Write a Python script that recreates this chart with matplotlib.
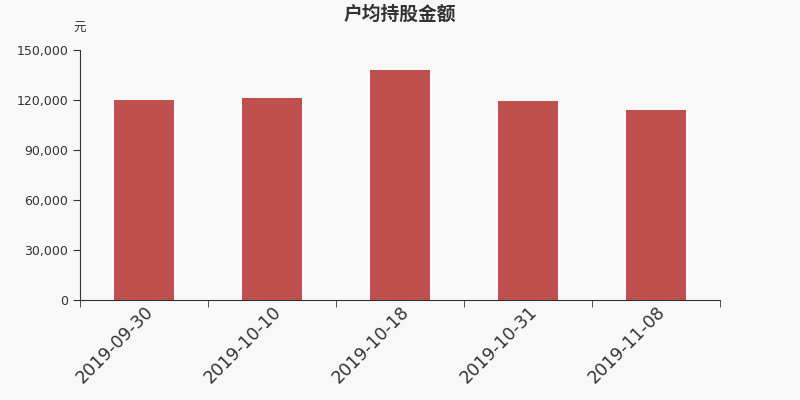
import numpy as np
import matplotlib.pyplot as plt

plt.rcParams['font.family'] = ['Noto Sans CJK SC', 'DejaVu Sans']

dates = ['2019-09-30', '2019-10-10', '2019-10-18', '2019-10-31', '2019-11-08']
values = [119800, 121200, 137800, 119400, 113800]
yticks = [0, 30000, 60000, 90000, 120000, 150000]

bg = '#f8f8f8'
fig = plt.figure(figsize=(8, 4), dpi=100, facecolor=bg)
ax = fig.add_axes([0.1, 0.25, 0.8, 0.625], facecolor=bg)

x = np.arange(len(dates))
ax.bar(x, values, width=0.47, color='#c0504d', zorder=2)

ax.set_xlim(-0.5, len(dates) - 0.5)
ax.set_ylim(0, 150000)
ax.set_yticks(yticks)
ax.set_yticklabels(['{:,}'.format(v) for v in yticks], family='DejaVu Sans')

ax.set_xticks(x)
ax.set_xticklabels(dates, rotation=45, ha='right', rotation_mode='anchor',
                   fontsize=12.5, family='DejaVu Sans')
ax.set_xticks(np.arange(len(dates) + 1) - 0.5, minor=True)
ax.tick_params(axis='x', which='major', length=0, pad=2, colors='#333333')
ax.tick_params(axis='x', which='minor', length=5, color='#333333')
ax.tick_params(axis='y', length=5, labelsize=9, colors='#333333')

for s in ['top', 'right']:
    ax.spines[s].set_visible(False)
for s in ['left', 'bottom']:
    ax.spines[s].set_color('#333333')

fig.text(0.5, 0.965, '户均持股金额', ha='center', va='center',
         fontsize=13.5, fontweight='bold', color='#333333')
fig.text(0.1, 0.928, '元', ha='center', va='center', fontsize=9, color='#333333')

fig.savefig('out.png', dpi=100, facecolor=bg)
